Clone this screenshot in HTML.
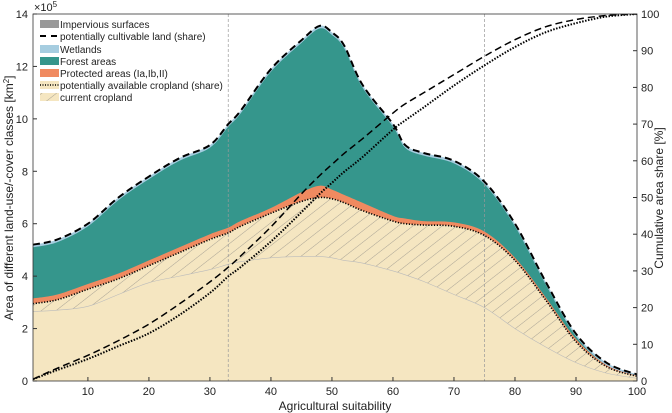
<!DOCTYPE html>
<html><head><meta charset="utf-8"><style>
body{margin:0;background:#fff;}
svg{display:block;font-family:"Liberation Sans",sans-serif;}
</style></head><body>
<svg id="chart" width="672" height="413" viewBox="0 0 672 413">
<defs>
<pattern id="hatch" patternUnits="userSpaceOnUse" width="9" height="9" patternTransform="rotate(-38)">
<rect width="9" height="9" fill="#f5e6c1"/><line x1="0" y1="0" x2="9" y2="0" stroke="#777" stroke-width="0.6"/>
</pattern>
<clipPath id="plotclip"><rect x="33" y="14" width="604" height="367"/></clipPath>
</defs>
<g id="marks" clip-path="url(#plotclip)"></g>
<g id="axes"></g>
</svg>
<script>
const xs = [1,5,10,15,20,25,30,33,35,40,45,48,50,52,55,60,62,65,70,75,80,85,90,95,100];
const totalArea = [5.2,5.4,6.0,7.0,7.8,8.5,9.0,9.8,10.3,11.9,13.0,13.55,13.3,12.8,11.3,9.8,9.0,8.7,8.4,7.6,6.0,3.8,1.8,0.7,0.25];
const protectedTop = [3.15,3.3,3.7,4.1,4.6,5.1,5.6,5.85,6.1,6.6,7.2,7.45,7.3,7.1,6.8,6.3,6.2,6.1,6.05,5.7,4.7,3.2,1.6,0.6,0.2];
const availCrop = [2.95,3.1,3.5,3.9,4.4,4.9,5.4,5.65,5.9,6.4,6.85,7.0,6.95,6.8,6.5,6.1,6.0,5.95,5.9,5.55,4.6,3.1,1.5,0.55,0.18];
const cropLower = [2.65,2.7,2.85,3.3,3.75,4.0,4.25,4.45,4.55,4.7,4.75,4.75,4.7,4.6,4.5,4.2,4.05,3.8,3.3,2.8,2.0,1.3,0.7,0.3,0.1];
const cumCultivable = [0.5,3.5,7,11,15.5,21,27,31,34,42,51,56,59,62,66,73,75.5,78.5,83.5,88.5,93,96.5,98.5,99.6,100];
const cumAvailable = [0.5,3,6,9.5,13,18,24,28.5,31,38,46,51,54,57,61,68.5,71,74.5,80.5,86,91,95,97.5,99.3,100];
const xTicks = [10,20,30,40,50,60,70,80,90,100];
const yTicks = [0,2,4,6,8,10,12,14];
const y2Ticks = [0,10,20,30,40,50,60,70,80,90,100];
const vLines = [33,75];

const X = v => 33 + (v-1)*(604/99);
const Y = v => 381 - v*(367/14);
const Y2 = v => 381 - v*(367/100);
const NS = "http://www.w3.org/2000/svg";
function el(tag, attrs, parent){const e=document.createElementNS(NS,tag);for(const k in attrs)e.setAttribute(k,attrs[k]);parent.appendChild(e);return e;}
function smooth(pts){let d=`M${pts[0][0]},${pts[0][1]}`;for(let i=0;i<pts.length-1;i++){const p0=pts[Math.max(0,i-1)],p1=pts[i],p2=pts[i+1],p3=pts[Math.min(pts.length-1,i+2)];const c1=[p1[0]+(p2[0]-p0[0])/6,p1[1]+(p2[1]-p0[1])/6],c2=[p2[0]-(p3[0]-p1[0])/6,p2[1]-(p3[1]-p1[1])/6];d+=`C${c1[0]},${c1[1]} ${c2[0]},${c2[1]} ${p2[0]},${p2[1]}`;}return d;}
function pts(arr, yf){return xs.map((x,i)=>[X(x),yf(arr[i])]);}
function revLine(arr,yf){const p=pts(arr,yf).reverse();return smooth(p).replace(/^M/,'L');}
const marks=document.getElementById('marks'), axes=document.getElementById('axes');
const base = `L${X(100)},${Y(0)} L${X(1)},${Y(0)}Z`;
const wet = totalArea.map(v=>v-0.1);
let e;
e=el('path',{d:smooth(pts(totalArea,Y))+base,fill:'#a6cde0'},marks);

e=el('path',{d:smooth(pts(wet,Y))+base,fill:'#35968c'},marks);

e=el('path',{d:smooth(pts(protectedTop,Y))+base,fill:'#f08a60'},marks);

e=el('path',{d:smooth(pts(availCrop,Y))+base,fill:'#f5e6c1'},marks);

e=el('path',{d:smooth(pts(availCrop,Y))+revLine(cropLower,Y)+'Z',fill:'url(#hatch)'},marks);

e=el('path',{d:smooth(pts(cropLower,Y)),fill:'none',stroke:'#bbb','stroke-width':0.6},marks);

vLines.forEach(v=>{const l=el('line',{x1:X(v),x2:X(v),y1:14,y2:381,stroke:'#999','stroke-width':0.7,'stroke-dasharray':'3,2'},marks);
});
e=el('path',{d:smooth(pts(availCrop,Y)),fill:'none',stroke:'#000','stroke-width':1.6,'stroke-dasharray':'1.2,1.6'},marks);

e=el('path',{d:smooth(pts(totalArea,Y)),fill:'none',stroke:'#000','stroke-width':2,'stroke-dasharray':'7,4'},marks);

e=el('path',{d:smooth(pts(cumCultivable,Y2)),fill:'none',stroke:'#000','stroke-width':1.5,'stroke-dasharray':'7,4'},marks);

e=el('path',{d:smooth(pts(cumAvailable,Y2)),fill:'none',stroke:'#000','stroke-width':2,'stroke-dasharray':'1.5,1.5'},marks);


e=el('rect',{x:33,y:14,width:604,height:367,fill:'none',stroke:'#333','stroke-width':0.8},axes);

xTicks.forEach(v=>{el('line',{x1:X(v),x2:X(v),y1:381,y2:377,stroke:'#333'},axes);
const t=el('text',{x:X(v),y:395,'font-size':11,'text-anchor':'middle',fill:'#222'},axes);t.textContent=v;
});
yTicks.forEach(v=>{el('line',{x1:33,x2:37,y1:Y(v),y2:Y(v),stroke:'#333'},axes);
const t=el('text',{x:28,y:Y(v)+4,'font-size':11,'text-anchor':'end',fill:'#222'},axes);t.textContent=v;
});
y2Ticks.forEach(v=>{el('line',{x1:633,x2:637,y1:Y2(v),y2:Y2(v),stroke:'#333'},axes);
const t=el('text',{x:641,y:Y2(v)+4,'font-size':11,'text-anchor':'start',fill:'#222'},axes);t.textContent=v;
});
</script>
<svg style="position:absolute;left:0;top:0" width="672" height="413">
<text x="34" y="11" font-size="11" fill="#222" font-family="Liberation Sans,sans-serif">×10<tspan font-size="8" dy="-4">5</tspan></text>
<text x="335" y="410" font-size="12" text-anchor="middle" fill="#222" font-family="Liberation Sans,sans-serif">Agricultural suitability</text>
<text transform="translate(13,198) rotate(-90)" font-size="12" text-anchor="middle" fill="#222" font-family="Liberation Sans,sans-serif">Area of different land-use/-cover classes [km<tspan font-size="8" dy="-4">2</tspan><tspan dy="4">]</tspan></text>
<text transform="translate(663,198) rotate(-90)" font-size="12" text-anchor="middle" fill="#222" font-family="Liberation Sans,sans-serif">Cumulative area share [%]</text>
<g font-family="Liberation Sans,sans-serif" font-size="10" fill="#222">
<rect x="40" y="20" width="19" height="8" fill="#999"/><text x="60" y="28">Impervious surfaces</text>
<line x1="40" y1="36" x2="59" y2="36" stroke="#000" stroke-width="2" stroke-dasharray="6,5"/><text x="60" y="40">potentially cultivable land (share)</text>
<rect x="40" y="45" width="19" height="8" fill="#a6cde0"/><text x="60" y="53">Wetlands</text>
<rect x="40" y="57" width="19" height="8" fill="#35968c"/><text x="60" y="65">Forest areas</text>
<rect x="40" y="69" width="19" height="8" fill="#f08a60"/><text x="60" y="77">Protected areas (Ia,Ib,II)</text>
<rect x="40" y="81" width="19" height="8" fill="#f5e6c1"/><line x1="40" y1="85" x2="59" y2="85" stroke="#000" stroke-width="1.4" stroke-dasharray="1,1.5"/><text x="60" y="89">potentially available cropland (share)</text>
<rect x="40" y="93" width="19" height="8" fill="url(#hatch)"/><text x="60" y="101">current cropland</text>
</g>
</svg>
</body></html>
